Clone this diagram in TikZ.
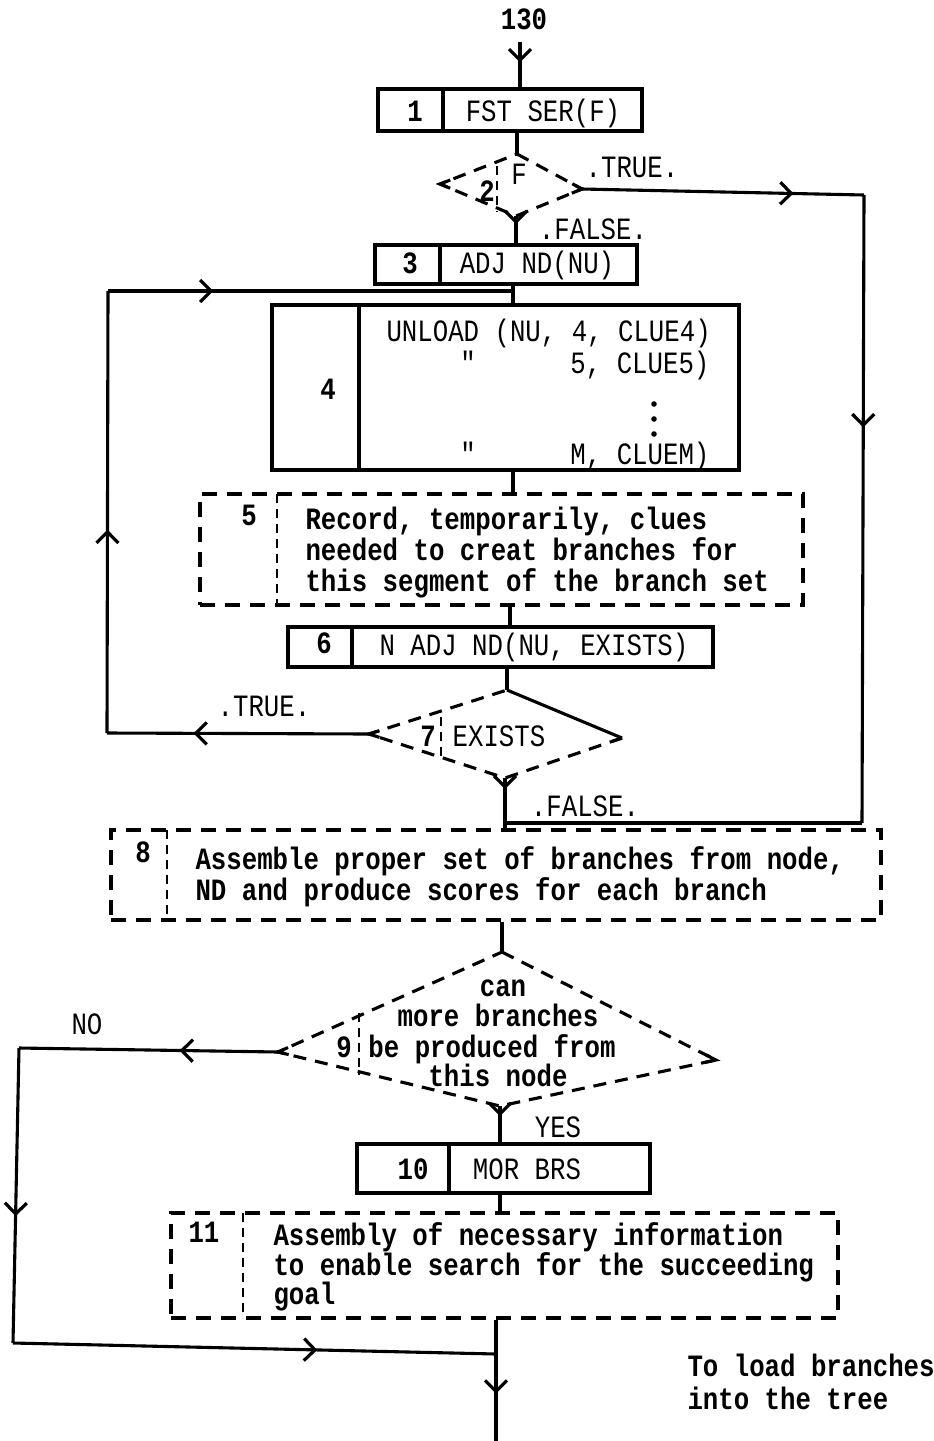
\documentclass[tikz,border=0pt]{standalone}
\usepackage{fontspec}
\usetikzlibrary{arrows.meta,decorations.markings,calc}
\newfontfamily\tw[FakeStretch=0.83]{Liberation Mono}
\begin{document}
\begin{tikzpicture}[x=1pt,y=-1pt,line width=3.1pt,
  every node/.style={inner sep=0pt,font=\tw\fontsize{31}{33}\selectfont},
  tx/.style={anchor=base,yshift=-9pt},
  txl/.style={anchor=base west,yshift=-9pt},
  txr/.style={anchor=base east,yshift=-9pt},
  bf/.style={font=\tw\bfseries\fontsize{31}{33}\selectfont},
  box/.style={draw,rectangle,line width=3.1pt},
  dbox/.style={draw,rectangle,line width=3.1pt,dash pattern=on 15pt off 10pt},
  dline/.style={line width=3.1pt,dash pattern=on 13pt off 9pt},
  dsep/.style={line width=2.6pt,dash pattern=on 9pt off 6pt},
  midarrow/.style={postaction={decorate},decoration={markings,
    mark=at position #1 with {\arrow{Straight Barb[length=11pt,width=22pt,line width=3.2pt]}}}},
]
\useasboundingbox (0,0) rectangle (934,1441);

% ---------- boxes ----------
\node[box,minimum width=264pt,minimum height=42pt] (b1) at (510,110) {};
\draw (443,89) -- (443,131);
\node[tx,bf] (n1) at (415,112) {1};
\node[tx] (t1) at (543,112) {FST SER(F)};

\node[box,minimum width=262pt,minimum height=39pt] (b3) at (506,264.5) {};
\draw (440,245) -- (440,284);
\node[tx,bf] (n3) at (410,264) {3};
\node[tx] (t3) at (537,264) {ADJ ND(NU)};

\node[box,minimum width=467pt,minimum height=165pt] (b4) at (505.5,387.5) {};
\draw (359,305) -- (359,470);
\node[tx,bf] (n4) at (328,390) {4};
\node[txl] (u1) at (385,332) {UNLOAD (NU, 4, CLUE4)};
\node[tx] (q1) at (468,364) {"};
\node[txr] (u2) at (711,364) {5, CLUE5)};
\fill (654,404) circle (2.8pt);
\fill (654,419) circle (2.8pt);
\fill (654,434) circle (2.8pt);
\node[tx] (q2) at (468,455) {"};
\node[txr] (u3) at (711,455) {M, CLUEM)};

\node[dbox,minimum width=603pt,minimum height=111pt] (b5) at (501.5,549.5) {};
\draw[dsep] (277,494) -- (277,605);
\node[tx,bf] (n5) at (249,516) {5};
\node[txl,bf] (r1) at (304,520) {Record, temporarily, clues};
\node[txl,bf] (r2) at (304,551) {needed to creat branches for};
\node[txl,bf] (r3) at (304,582) {this segment of the branch set};

\node[box,minimum width=425pt,minimum height=40pt] (b6) at (500.5,647) {};
\draw (352,627) -- (352,667);
\node[tx,bf] (n6) at (324,644) {6};
\node[tx] (t6) at (534,646) {N ADJ ND(NU, EXISTS)};

\node[dbox,minimum width=770pt,minimum height=90pt] (b8) at (496,875) {};
\draw[dsep] (167,830) -- (167,920);
\node[tx,bf] (n8) at (143,853) {8};
\node[txl,bf] (a1) at (194,860) {Assemble proper set of branches from node,};
\node[txl,bf] (a2) at (194,891) {ND and produce scores for each branch};

\node[box,minimum width=293pt,minimum height=49pt] (b10) at (503.5,1168.5) {};
\draw (449,1144) -- (449,1193);
\node[tx,bf] (n10) at (413,1170) {10};
\node[tx] (t10) at (527,1170) {MOR BRS};

\node[dbox,minimum width=667pt,minimum height=105pt] (b11) at (504.5,1265.5) {};
\draw[dsep] (243,1213) -- (243,1318);
\node[tx,bf] (n11) at (204,1233) {11};
\node[txl,bf] (s1) at (272,1236) {Assembly of necessary information};
\node[txl,bf] (s2) at (272,1266) {to enable search for the succeeding};
\node[txl,bf] (s3) at (272,1295) {goal};

% ---------- diamonds ----------
\coordinate (d2t) at (517,154); \coordinate (d2l) at (440,184);
\coordinate (d2r) at (582,189); \coordinate (d2b) at (516,216);
\draw[dline] (d2t) -- (d2r) -- (d2b) -- (d2l) -- cycle;
\draw ($(d2l)!11pt!(d2t)$) -- (d2l) -- ($(d2l)!11pt!(d2b)$);
\draw ($(d2r)!11pt!(d2t)$) -- (d2r) -- ($(d2r)!11pt!(d2b)$);
\draw[dsep] (497,166) -- (497,212);
\node[tx,bf] (n2) at (487,192) {2};
\node[tx] (f2) at (519,175) {F};

\coordinate (d7t) at (507,690); \coordinate (d7l) at (369,734);
\coordinate (d7r) at (622,738); \coordinate (d7b) at (505,778);
\draw[dline] (d7r) -- (d7b) -- (d7l) -- (d7t);
\draw (d7t) -- (d7r);
\draw ($(d7l)!11pt!(d7t)$) -- (d7l) -- ($(d7l)!11pt!(d7b)$);
\draw ($(d7r)!11pt!(d7b)$) -- (d7r);
\draw[dsep] (441,717) -- (441,757);
\node[tx,bf] (n7) at (428,737) {7};
\node[tx] (t7) at (499,737) {EXISTS};

\coordinate (d9t) at (502,952); \coordinate (d9l) at (278,1052);
\coordinate (d9r) at (716,1060); \coordinate (d9b) at (500,1106);
\draw[dline] (d9t) -- (d9r) -- (d9b) -- (d9l) -- cycle;
\draw ($(d9l)!11pt!(d9t)$) -- (d9l) -- ($(d9l)!11pt!(d9b)$);
\draw ($(d9r)!11pt!(d9t)$) -- (d9r) -- ($(d9r)!11pt!(d9b)$);
\draw[dsep] (359,1013) -- (359,1075);
\node[tx,bf] (n9) at (344,1048) {9};
\node[tx,bf] (c1) at (503,987) {can};
\node[tx,bf] (c2) at (498,1017) {more branches};
\node[tx,bf] (c3) at (492,1048) {be produced from};
\node[tx,bf] (c4) at (498,1077) {this node};

% ---------- labels ----------
\node[tx,bf] (l130) at (524,20) {130};
\node[tx] (tr2) at (632,168) {.TRUE.};
\node[tx] (fa2) at (593,230) {.FALSE.};
\node[tx] (tr7) at (264,707) {.TRUE.};
\node[tx] (fa7) at (585,807) {.FALSE.};
\node[tx] (no) at (87,1025) {NO};
\node[tx] (yes) at (558,1128) {YES};
\node[txl,bf] (ld1) at (686,1367) {To load branches};
\node[txl,bf] (ld2) at (686,1400) {into the tree};

% ---------- connectors ----------
\coordinate (top) at (520,42);
\draw[midarrow=0.45] (top) -- (top |- b1.north);
\draw (b1.south -| d2t) -- (d2t);
\draw[midarrow=0.3] (d2b) -- (d2b |- b3.north);

\coordinate (rc1) at (864,195);
\coordinate (rc2) at (862,823);
\coordinate (j8) at (506,823);
\draw[midarrow=0.75] (d2r) -- (rc1);
\draw[midarrow=0.37] (rc1) -- (rc2);
\draw (rc2) -- (j8);

\coordinate (j4) at (513,291);
\coordinate (lc1) at (108,291);
\coordinate (lc2) at (107,733);
\draw (b3.south -| j4) -- (j4) -- (j4 |- b4.north);
\draw[midarrow=0.67] (d7l) -- (lc2);
\draw[midarrow=0.46] (lc2) -- (lc1);
\draw[midarrow=0.26] (lc1) -- (j4);

\coordinate (x513) at (513,0);
\draw (b4.south -| x513) -- (b5.north -| x513);
\coordinate (x510) at (510,0);
\draw (b5.south -| x510) -- (b6.north -| x510);
\draw (b6.south -| d7t) -- (d7t);
\draw[midarrow=0.22] (d7b) -- (d7b |- b8.north);

\draw (b8.south -| d9t) -- (d9t);
\coordinate (nc1) at (19,1048);
\coordinate (nc2) at (13,1343);
\coordinate (jo) at (496,1354);
\draw[midarrow=0.38] (d9l) -- (nc1);
\draw[midarrow=0.57] (nc1) -- (nc2);
\draw[midarrow=0.63] (nc2) -- (jo);
\draw[midarrow=0.28] (d9b) -- (d9b |- b10.north);
\draw (b10.south -| d9b) -- (b11.north -| d9b);
\coordinate (endp) at (496,1441);
\draw[midarrow=0.61] (b11.south -| jo) -- (endp);
\end{tikzpicture}
\end{document}
